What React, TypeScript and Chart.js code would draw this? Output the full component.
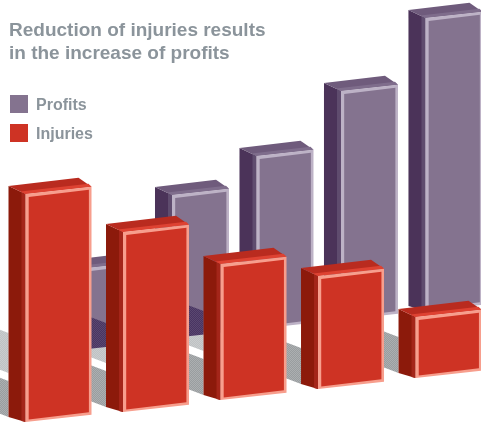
import React, { useEffect, useRef } from "react";
import { Chart, registerables } from "chart.js";

Chart.register(...registerables);

const titleLines = ["Reduction of injuries results", "in the increase of profits"];
const positions = [0, 1, 2, 3, 4];
const profitsBase = [75, 86, 95, 104, 113];
const profits = [81, 143, 173, 229, 293];
const injuriesBase = [2, 12, 24, 35, 46];
const injuries = [228, 180, 136, 113, 61];

const purple = { front: "#84738F", border: "#BDB2C6", side: "#4B3359", strip: "#5F4C6E", cap: "#6F5B7C", bevel: "#7F6D8C" };
const red = { front: "#CE3324", border: "#F79E8D", side: "#8C1A0B", strip: "#A4261A", cap: "#B92B1F", bevel: "#DE4232" };

const SKEW = 0.11;

function poly(ctx: CanvasRenderingContext2D, pts: number[][], fill: any) {
  ctx.beginPath();
  pts.forEach((p, i) => (i ? ctx.lineTo(p[0], p[1]) : ctx.moveTo(p[0], p[1])));
  ctx.closePath();
  ctx.fillStyle = fill;
  ctx.fill();
}

function drawBar(ctx: CanvasRenderingContext2D, el: any, c: typeof red) {
  const L = el.x - el.width / 2;
  const R = el.x + el.width / 2;
  const sk = SKEW * el.width;
  const y = el.y;
  const b = el.base;
  const bx = L - 17;
  poly(ctx, [[bx, y - 8], [L, y], [L, b], [bx, b - 5]], c.side);
  poly(ctx, [[L - 4, y - 2], [L, y], [L, b], [L - 4, b - 1]], c.strip);
  poly(ctx, [[bx, y - 8], [R - 13, y - sk - 9], [R, y - sk], [L, y]], c.cap);
  poly(ctx, [[L - 5, y - 2.5], [R - 3, y - sk - 3], [R, y - sk], [L, y]], c.bevel);
  poly(ctx, [[L, y], [R, y - sk], [R, b - sk], [L, b]], c.border);
  poly(ctx, [[L + 3.2, y + 3], [R - 2.6, y - sk + 3], [R - 2.6, b - sk - 2.6], [L + 3.2, b - 2.6]], c.front);
}

function dither(ctx: CanvasRenderingContext2D, a: string, b: string) {
  const off = document.createElement("canvas");
  off.width = 2;
  off.height = 2;
  const o = off.getContext("2d")!;
  o.fillStyle = a;
  o.fillRect(0, 0, 2, 2);
  o.fillStyle = b;
  o.fillRect(0, 0, 1, 1);
  o.fillRect(1, 1, 1, 1);
  return ctx.createPattern(off, "repeat")!;
}

function band(el: any, top: number, bottom: number) {
  const bx = el.x - el.width / 2 - 17;
  const by = el.base - 5;
  const lx = bx - 62;
  const dy = 62 * 0.38;
  return [[bx, by - top], [bx, by - bottom], [lx, by - bottom - dy], [lx, by - top - dy]];
}

const bars3d = {
  id: "bars3d",
  beforeDatasetsDraw(chart: any) {
    const ctx = chart.ctx;
    const inj = chart.getDatasetMeta(1).data;
    const light = dither(ctx, "#BEC1C3", "#CACDCE");
    const dark = dither(ctx, "#999D9F", "#ACAFB1");
    inj.forEach((el: any, i: number) => {
      if (i < 3) poly(ctx, band(el, 84, 44), light);
      poly(ctx, band(el, 36, 0), dark);
    });
  },
  beforeDatasetDraw(chart: any, args: any) {
    const ctx = chart.ctx;
    const isProfit = args.index === 0;
    args.meta.data.forEach((el: any) => drawBar(ctx, el, isProfit ? purple : red));
    if (isProfit) {
      const inj = chart.getDatasetMeta(1).data;
      const pattern = dither(ctx, "#493462", "#5A4870");
      args.meta.data.forEach((el: any) => {
        const L = el.x - el.width / 2;
        const R = el.x + el.width / 2;
        const sk = SKEW * el.width;
        ctx.save();
        ctx.beginPath();
        ctx.moveTo(L, el.y);
        ctx.lineTo(R, el.y - sk);
        ctx.lineTo(R, el.base - sk);
        ctx.lineTo(L, el.base);
        ctx.closePath();
        ctx.clip();
        inj.forEach((b: any, i: number) => {
          if (i < 3) poly(ctx, band(b, 84, 44), pattern);
        });
        ctx.restore();
      });
    }
    return false;
  },
  afterDraw(chart: any) {
    const ctx = chart.ctx;
    ctx.save();
    ctx.textBaseline = "alphabetic";
    ctx.textAlign = "left";
    ctx.fillStyle = "#8B949B";
    ctx.font = "bold 19px 'Liberation Sans'";
    titleLines.forEach((t, i) => ctx.fillText(t, 9, 36 + i * 23));
    ctx.font = "bold 16px 'Liberation Sans'";
    chart.data.datasets.forEach((d: any, i: number) => {
      const top = 95 + i * 29;
      ctx.fillStyle = d.backgroundColor;
      ctx.fillRect(10, top, 18, 18);
      ctx.fillStyle = "#8B949B";
      ctx.fillText(d.label, 36, top + 15);
    });
    ctx.restore();
  },
};

export default function App() {
  const ref = useRef<HTMLCanvasElement>(null);
  useEffect(() => {
    const chart = new Chart(ref.current!, {
      type: "bar",
      data: {
        datasets: [
          {
            label: "Profits",
            xAxisID: "xP",
            order: 2,
            grouped: false,
            barThickness: 57,
            backgroundColor: purple.front,
            data: positions.map((p, i) => ({ x: p, y: [profitsBase[i], profitsBase[i] + profits[i]] })),
          },
          {
            label: "Injuries",
            xAxisID: "xI",
            order: 1,
            grouped: false,
            barThickness: 66,
            backgroundColor: red.front,
            data: positions.map((p, i) => ({ x: p, y: [injuriesBase[i], injuriesBase[i] + injuries[i]] })),
          },
        ] as any,
      },
      options: {
        animation: false,
        responsive: false,
        devicePixelRatio: 1,
        layout: { padding: 0 },
        plugins: { legend: { display: false }, title: { display: false }, tooltip: { enabled: false } },
        scales: {
          xP: { type: "linear", display: false, offset: false, min: -1.373, max: 4.32 },
          xI: { type: "linear", display: false, offset: false, min: -0.6, max: 4.333 },
          y: { type: "linear", display: false, min: 0, max: 424 },
        },
      } as any,
      plugins: [bars3d],
    });
    return () => chart.destroy();
  }, []);
  return (
    <div style={{ position: "absolute", left: 0, top: 0, width: 481, height: 424 }}>
      <canvas ref={ref} width={481} height={424} style={{ display: "block" }} />
    </div>
  );
}
